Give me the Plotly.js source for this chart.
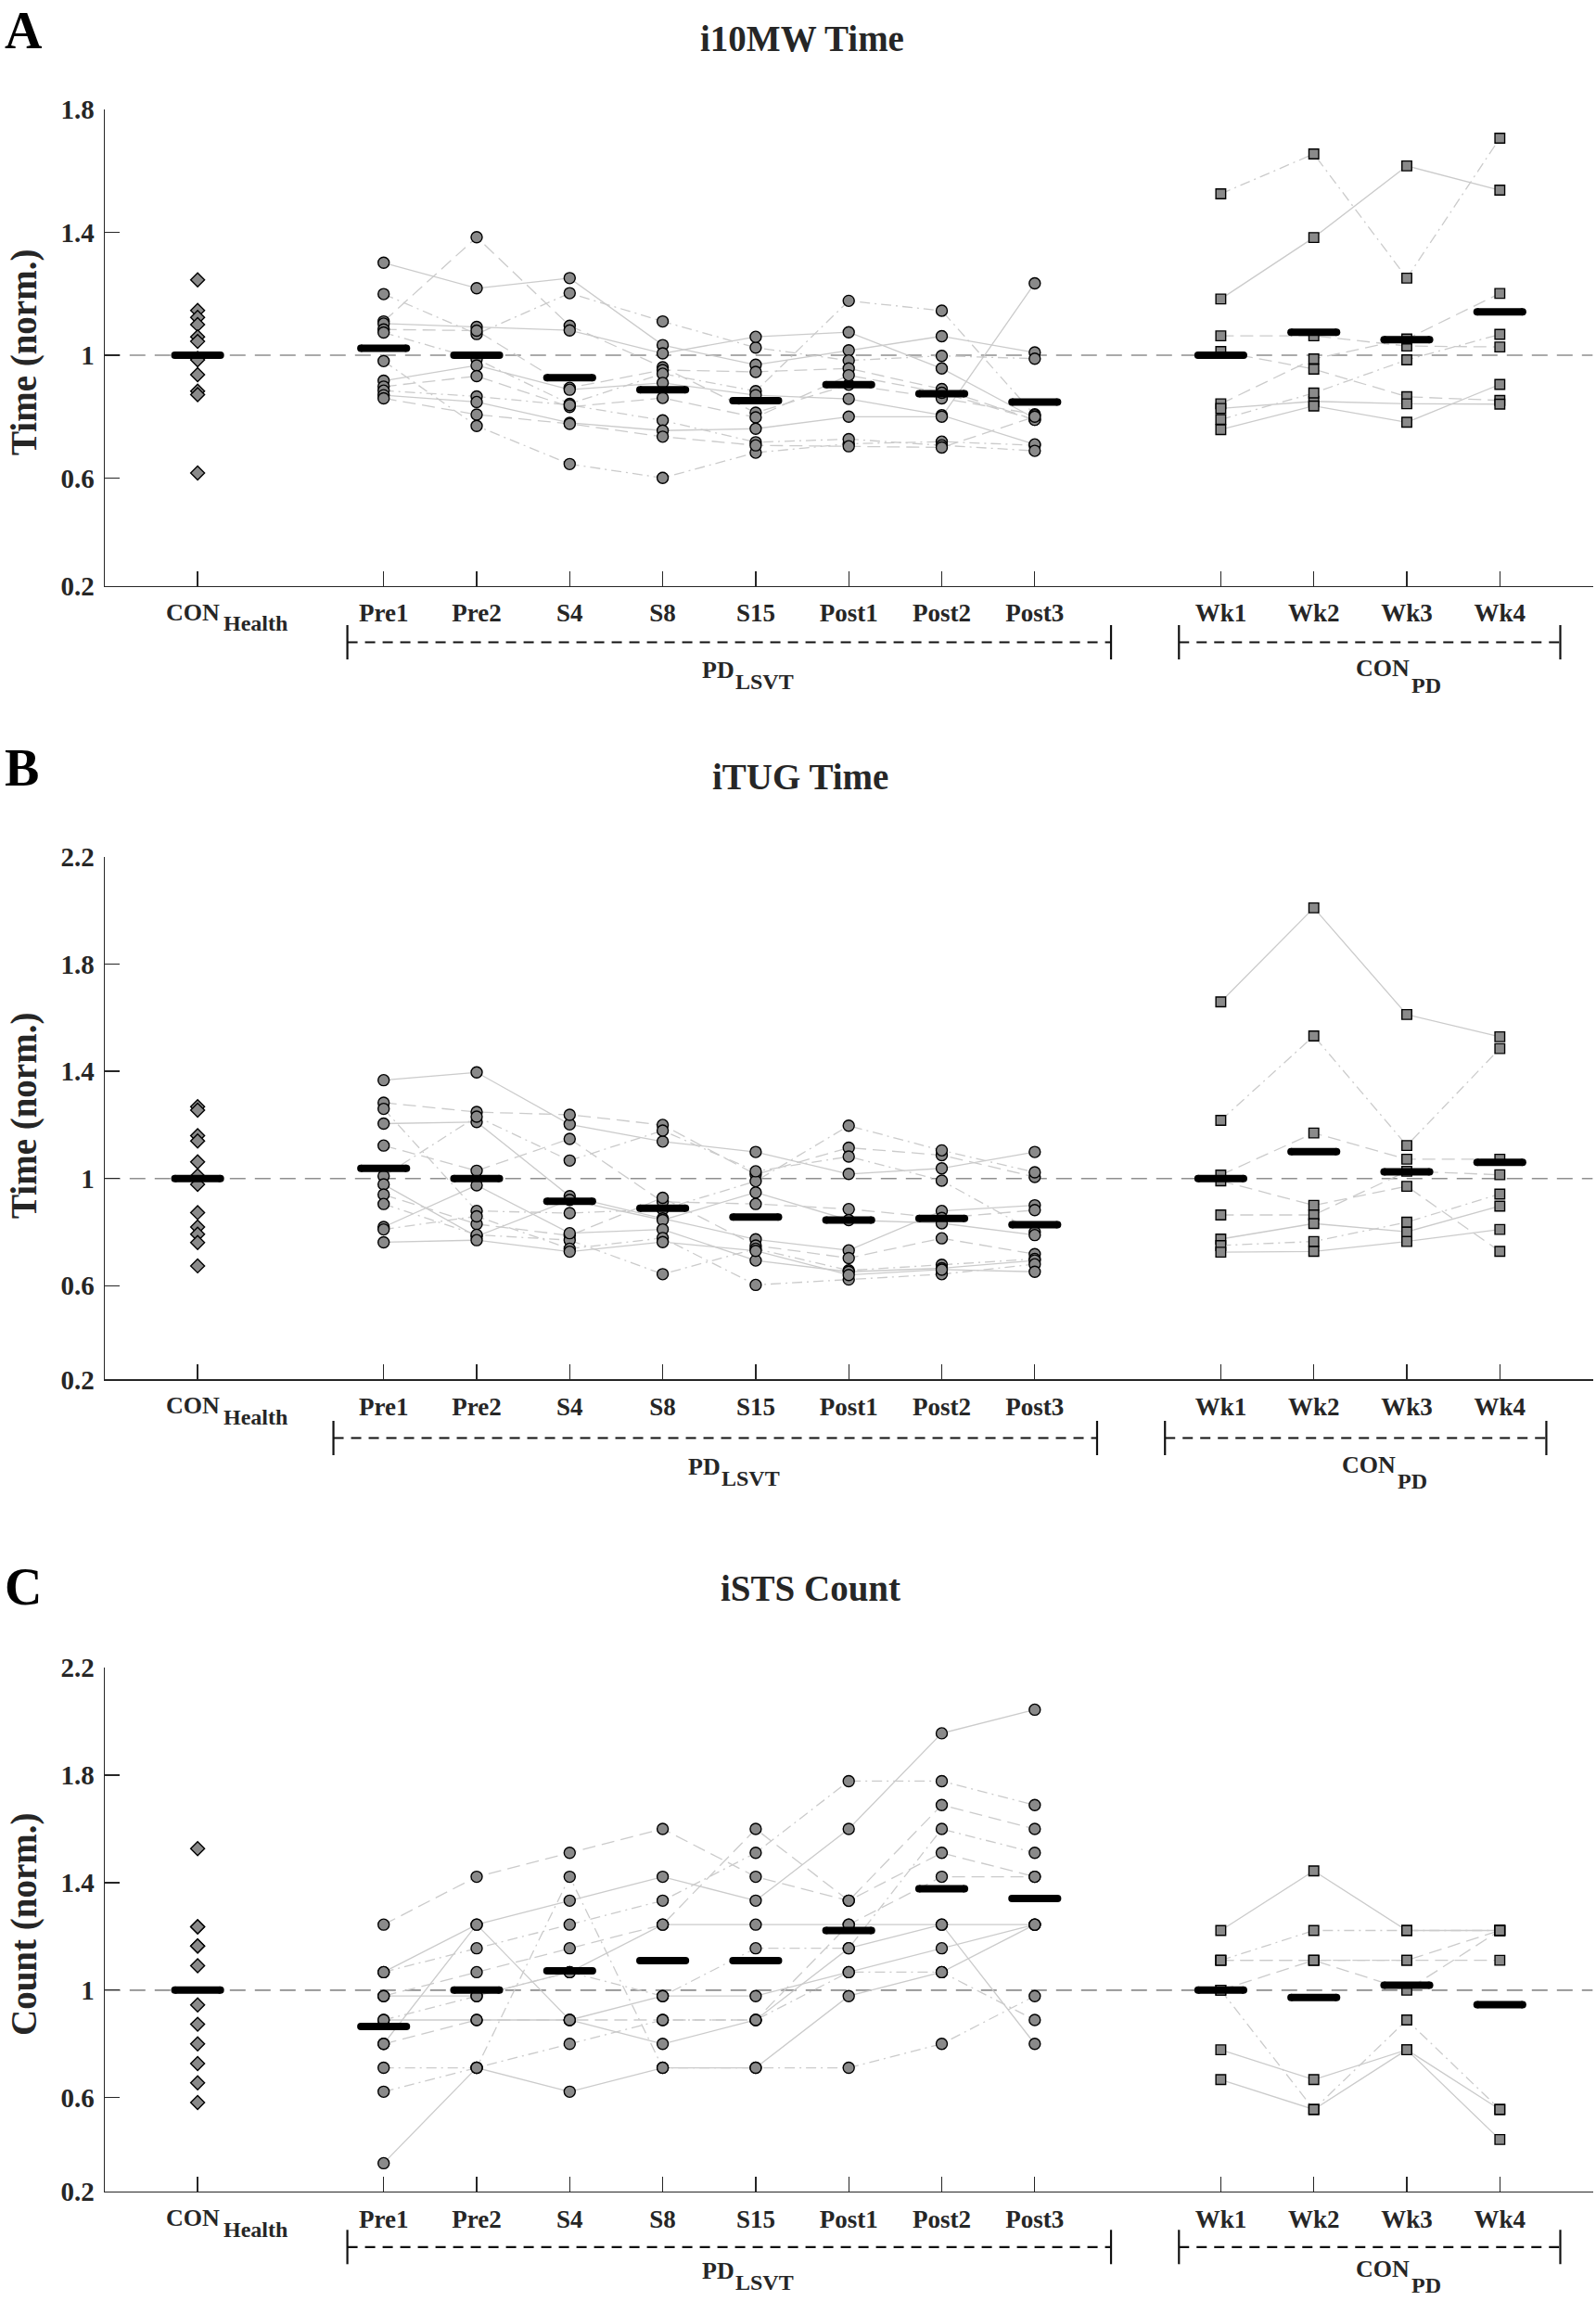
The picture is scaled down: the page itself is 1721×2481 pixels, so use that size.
<!DOCTYPE html>
<html><head><meta charset="utf-8">
<script src="https://cdn.plot.ly/plotly-3.0.1.min.js"></script>
<style>html,body{margin:0;padding:0;background:#fff}</style>
</head><body><div id="chart" style="width:1721px;height:2481px"></div>
<script>
// ---------- categories ----------
const sessions = ['Pre1','Pre2','S4','S8','S15','Post1','Post2','Post3'];
const weeks = ['Wk1','Wk2','Wk3','Wk4'];
const sessionPos = [3,4,5,6,7,8,9,10];
const weekPos = [12,13,14,15];
const healthPos = 1;

// ---------- Panel A : i10MW Time ----------
const A_health = [1.245,1.146,1.123,1.100,1.060,1.045,0.990,0.985,0.937,0.883,0.872,0.617];
const A_pd = [
 [1.301,1.218,1.251,1.033,0.969,1.016,1.062,1.009],
 [1.199,1.069,1.202,1.110,1.025,0.983,0.998,0.989],
 [1.110,1.384,1.096,0.961,0.813,0.904,0.860,0.808],
 [1.103,1.092,1.081,1.006,1.060,1.075,0.957,0.795],
 [1.084,1.080,0.894,0.952,0.946,0.957,0.890,0.790],
 [1.074,0.987,0.842,0.940,0.883,1.177,1.145,0.805],
 [0.981,0.770,0.646,0.601,0.683,0.712,0.719,0.707],
 [0.917,0.967,0.888,0.910,0.870,0.858,0.805,0.710],
 [0.898,0.932,0.832,0.861,0.798,0.935,0.878,0.790],
 [0.885,0.866,0.838,0.788,0.717,0.727,0.707,0.689],
 [0.870,0.848,0.780,0.755,0.761,0.800,0.800,1.234],
 [0.860,0.807,0.777,0.735,0.707,0.704,0.700,0.800]
];
const A_pdStyle = ['solid','dashdot','dash','solid','dash','dashdot','dashdot','solid','dash','dashdot','solid','dash'];
const A_con = [
 [1.525,1.655,1.251,1.706],
 [1.183,1.383,1.616,1.537],
 [1.063,1.063,1.030,1.027],
 [1.012,0.955,0.865,0.853],
 [0.842,0.988,1.053,1.201],
 [0.827,0.850,0.842,0.841],
 [0.791,0.877,0.985,1.068],
 [0.758,0.835,0.782,0.905]
];
const A_conStyle = ['dashdot','solid','dash','dash','dash','solid','dashdot','solid'];
const A_meanHealth = 1.000;
const A_meanPD = [1.023,1.000,0.927,0.888,0.852,0.904,0.875,0.848];
const A_meanCon = [1.000,1.075,1.051,1.141];

// ---------- Panel B : iTUG Time ----------
const B_health = [1.268,1.255,1.160,1.140,1.062,1.010,0.978,0.873,0.819,0.792,0.761,0.674];
const B_pd = [
 [1.367,1.396,1.202,1.138,1.099,1.017,1.038,1.099],
 [1.283,1.248,1.238,1.200,1.015,1.115,1.087,1.006],
 [1.260,0.879,0.871,0.885,0.990,1.197,1.105,1.023],
 [1.205,1.211,0.934,0.851,0.773,0.732,0.879,0.900],
 [1.123,1.029,1.148,0.913,0.905,0.886,0.853,0.882],
 [1.009,1.231,1.067,1.179,1.027,1.082,0.992,0.800],
 [0.978,0.784,0.920,0.845,0.948,0.845,0.833,0.789],
 [0.940,0.830,0.787,0.928,0.750,0.703,0.777,0.718],
 [0.905,0.790,0.770,0.643,0.738,0.657,0.678,0.700],
 [0.819,0.975,0.796,0.810,0.694,0.652,0.665,0.694],
 [0.810,0.859,0.738,0.778,0.603,0.623,0.643,0.680],
 [0.762,0.770,0.727,0.763,0.730,0.640,0.660,0.652]
];
const B_pdStyle = ['solid','dash','dashdot','solid','dash','dashdot','solid','dash','dashdot','solid','dashdot','solid'];
const B_con = [
 [1.659,2.010,1.612,1.529],
 [1.217,1.532,1.123,1.485],
 [1.013,1.170,1.072,1.072],
 [0.991,0.900,0.971,0.728],
 [0.864,0.864,1.027,1.014],
 [0.774,0.832,0.801,0.897],
 [0.750,0.765,0.837,0.942],
 [0.725,0.728,0.765,0.810]
];
const B_conStyle = ['solid','dashdot','dash','dash','dash','solid','dashdot','solid'];
const B_meanHealth = 1.000;
const B_meanPD = [1.038,1.000,0.915,0.889,0.856,0.845,0.851,0.828];
const B_meanCon = [1.000,1.100,1.025,1.060];

// ---------- Panel C : iSTS Count ----------
const C_health = [1.527,1.236,1.236,1.164,1.164,1.091,0.945,0.873,0.800,0.727,0.655,0.582];
const C_pd = [
 [1.244,1.422,1.511,1.600,1.422,1.333,1.511,1.422],
 [1.067,1.244,1.333,1.422,1.333,1.600,1.956,2.044],
 [1.067,1.156,1.244,1.333,1.511,1.778,1.778,1.689],
 [0.978,1.067,1.156,1.244,1.600,1.333,1.689,1.600],
 [0.978,0.978,1.067,1.244,1.244,1.244,1.244,0.800],
 [0.889,0.978,1.067,0.978,1.156,1.156,1.600,1.511],
 [0.889,0.889,0.889,0.978,0.978,1.067,1.156,1.244],
 [0.800,0.889,0.889,0.889,0.889,1.244,1.422,1.422],
 [0.800,1.244,0.889,0.800,0.889,1.156,1.244,1.244],
 [0.711,0.711,1.422,0.711,0.711,0.711,0.800,0.978],
 [0.622,0.711,0.800,0.889,0.889,1.067,1.067,0.889],
 [0.356,0.711,0.622,0.711,0.711,0.978,1.067,1.244]
];
const C_pdStyle = ['dash','solid','dashdot','dash','solid','dashdot','solid','dash','solid','dashdot','dashdot','solid'];
const C_con = [
 [1.222,1.444,1.222,1.222],
 [1.111,1.222,1.222,1.222],
 [1.111,1.111,1.111,1.111],
 [1.111,1.111,1.000,1.222],
 [1.000,0.556,0.889,0.556],
 [1.000,1.111,1.111,1.222],
 [0.778,0.667,0.778,0.444],
 [0.667,0.556,0.778,0.556]
];
const C_conStyle = ['solid','dashdot','dash','dash','dashdot','dash','solid','solid'];
const C_meanHealth = 1.000;
const C_meanPD = [0.865,1.000,1.072,1.110,1.110,1.222,1.377,1.341];
const C_meanCon = [1.000,0.973,1.018,0.946];

// ---------- tick labels ----------
const yTickText1 = ['0.2','0.6','1','1.4','1.8'];
const yTickText2 = ['0.2','0.6','1','1.4','1.8','2.2'];

// ---------- drawing ----------
const W = 1721, H = 2481;
const FONT = 'Liberation Serif, Times New Roman, serif';
const TXT = '#262626';
const pxX = v => v / W;
const pxY = v => 1 - v / H;
const dashMap = {solid:'solid', dash:'14px,7px', dashdot:'11px,5px,2px,5px'};

const panels = [
 {health:A_health, pd:A_pd, pdStyle:A_pdStyle, con:A_con, conStyle:A_conStyle,
  mH:A_meanHealth, mPD:A_meanPD, mCon:A_meanCon,
  top:117.9, bottom:631.6, yr:[0.25,1.8], tv:[0.25,0.6,1,1.4,1.8], tt:yTickText1,
  title:'i10MW Time', titleX:865, titleY:42, letter:'A', letterTop:1,
  ytitle:'Time (norm.)', ytitleY:380,
  brY:692.5, pdBr:[2.61,10.82], conBr:[11.55,15.65], gShift:0, gLift:0},
 {health:B_health, pd:B_pd, pdStyle:B_pdStyle, con:B_con, conStyle:B_conStyle,
  mH:B_meanHealth, mPD:B_meanPD, mCon:B_meanCon,
  top:924, bottom:1487.4, yr:[0.25,2.2], tv:[0.25,0.6,1,1.4,1.8,2.2], tt:yTickText2,
  title:'iTUG Time', titleX:863, titleY:837, letter:'B', letterTop:796,
  ytitle:'Time (norm.)', ytitleY:1203,
  brY:1550.5, pdBr:[2.46,10.67], conBr:[11.40,15.50], gShift:-15, gLift:0},
 {health:C_health, pd:C_pd, pdStyle:C_pdStyle, con:C_con, conStyle:C_conStyle,
  mH:C_meanHealth, mPD:C_meanPD, mCon:C_meanCon,
  top:1798.2, bottom:2363.1, yr:[0.25,2.2], tv:[0.25,0.6,1,1.4,1.8,2.2], tt:yTickText2,
  title:'iSTS Count', titleX:874, titleY:1712, letter:'C', letterTop:1679,
  ytitle:'Count (norm.)', ytitleY:2075,
  brY:2422.8, pdBr:[2.61,10.82], conBr:[11.55,15.65], gShift:0, gLift:5}
];

const traces = [];
const layout = {
  width: W, height: H, margin:{l:0,r:0,t:0,b:0},
  paper_bgcolor:'#fff', plot_bgcolor:'#fff', showlegend:false,
  font:{family:FONT, color:TXT},
  shapes:[], annotations:[]
};

const markerBase = {color:'#8a8a8a', line:{color:'#000', width:1.4}};

panels.forEach((p, k) => {
  const n = k + 1;
  const xa = n === 1 ? 'x' : 'x' + n;
  const ya = n === 1 ? 'y' : 'y' + n;
  const xk = n === 1 ? 'xaxis' : 'xaxis' + n;
  const yk = n === 1 ? 'yaxis' : 'yaxis' + n;

  layout[xk] = {
    domain:[pxX(112.8), pxX(1717.6)], range:[0,16], anchor:ya,
    showgrid:false, zeroline:false, showline:true, linecolor:TXT, linewidth:1.3,
    ticks:'inside', ticklen:16, tickwidth:1.3, tickcolor:TXT,
    tickvals:[healthPos].concat(sessionPos, weekPos),
    ticktext:[''].concat(sessions, weeks),
    tickfont:{family:FONT, size:27, color:TXT, weight:'bold'},
    ticklabelstandoff:5
  };
  layout[yk] = {
    domain:[pxY(p.bottom), pxY(p.top)], range:p.yr, anchor:xa,
    showgrid:false, zeroline:false, showline:true, linecolor:TXT, linewidth:1.3,
    ticks:'inside', ticklen:16, tickwidth:1.3, tickcolor:TXT,
    tickvals:p.tv, ticktext:p.tt,
    tickfont:{family:FONT, size:29, color:TXT, weight:'bold'},
    ticklabelstandoff:4
  };

  // reference line at 1
  layout.shapes.push({type:'line', xref:xa, yref:ya, x0:0, x1:16, y0:1, y1:1,
    line:{color:'#8f8f8f', width:1.6, dash:'17px,10px'}, layer:'below'});

  // subject lines
  p.pd.forEach((s, i) => traces.push({type:'scatter', mode:'lines', x:sessionPos, y:s,
    xaxis:xa, yaxis:ya, hoverinfo:'skip',
    line:{color:'#cbcbcb', width:1.3, dash:dashMap[p.pdStyle[i]]}}));
  p.con.forEach((s, i) => traces.push({type:'scatter', mode:'lines', x:weekPos, y:s,
    xaxis:xa, yaxis:ya, hoverinfo:'skip',
    line:{color:'#cbcbcb', width:1.3, dash:dashMap[p.conStyle[i]]}}));

  // markers
  traces.push({type:'scatter', mode:'markers', x:p.health.map(() => healthPos), y:p.health,
    xaxis:xa, yaxis:ya, marker:Object.assign({symbol:'diamond', size:11.5}, markerBase)});
  const px_ = [], py_ = [];
  p.pd.forEach(s => s.forEach((v, j) => { px_.push(sessionPos[j]); py_.push(v); }));
  traces.push({type:'scatter', mode:'markers', x:px_, y:py_, xaxis:xa, yaxis:ya,
    marker:Object.assign({symbol:'circle', size:12}, markerBase)});
  const cx = [], cy = [];
  p.con.forEach(s => s.forEach((v, j) => { cx.push(weekPos[j]); cy.push(v); }));
  traces.push({type:'scatter', mode:'markers', x:cx, y:cy, xaxis:xa, yaxis:ya,
    marker:Object.assign({symbol:'square', size:10.5}, markerBase)});

  // mean bars
  const bx = [], by = [];
  const allPos = [healthPos].concat(sessionPos, weekPos);
  const allMean = [p.mH].concat(p.mPD, p.mCon);
  allPos.forEach((c, i) => { bx.push(c - 0.245, c + 0.245, null); by.push(allMean[i], allMean[i], null); });
  traces.push({type:'scatter', mode:'lines+markers', x:bx, y:by, xaxis:xa, yaxis:ya,
    line:{color:'#000', width:8}, marker:{color:'#000', size:8, symbol:'circle'}, hoverinfo:'skip'});

  // brackets
  const yb = pxY(p.brY), cap = 18.5 / H;
  [p.pdBr, p.conBr].forEach(br => {
    layout.shapes.push({type:'line', xref:xa, yref:'paper', x0:br[0], x1:br[1], y0:yb, y1:yb,
      line:{color:'#111', width:2.2, dash:'11px,8px'}});
    layout.shapes.push({type:'line', xref:xa, yref:'paper', x0:br[0], x1:br[0], y0:yb-cap, y1:yb+cap,
      line:{color:'#111', width:2.2}});
    layout.shapes.push({type:'line', xref:xa, yref:'paper', x0:br[1], x1:br[1], y0:yb-cap, y1:yb+cap,
      line:{color:'#111', width:2.2}});
  });

  const ann = (text, x, y, size, opts) => layout.annotations.push(Object.assign({
    text:text, xref:'paper', yref:'paper', x:pxX(x), y:pxY(y), showarrow:false, borderpad:0,
    xanchor:'left', yanchor:'middle', font:{family:FONT, size:size, color:TXT, weight:'bold'}}, opts || {}));

  // group labels
  const s = p.gShift, gy = p.brY - p.gLift;
  ann('PD', 756 + s, gy + 30.5, 26);
  ann('LSVT', 792 + s, gy + 43, 24);
  ann('CON', 1461 + s, gy + 28.5, 26);
  ann('PD', 1521 + s, gy + 46, 24);

  // CON_Health x label
  ann('CON', 178, p.bottom + 28.5, 26);
  ann('Health', 240, p.bottom + 40.5, 24);

  // title, panel letter, y title
  ann(p.title, p.titleX, p.titleY, 39, {xanchor:'center'});
  ann(p.letter, 4, p.letterTop, 56, {yanchor:'top', font:{family:FONT, size:56, color:'#000', weight:'bold'}});
  ann(p.ytitle, 26, p.ytitleY, 39, {xanchor:'center', textangle:-90});
});

Plotly.newPlot('chart', traces, layout, {staticPlot:true, displayModeBar:false});
</script>
</body></html>
